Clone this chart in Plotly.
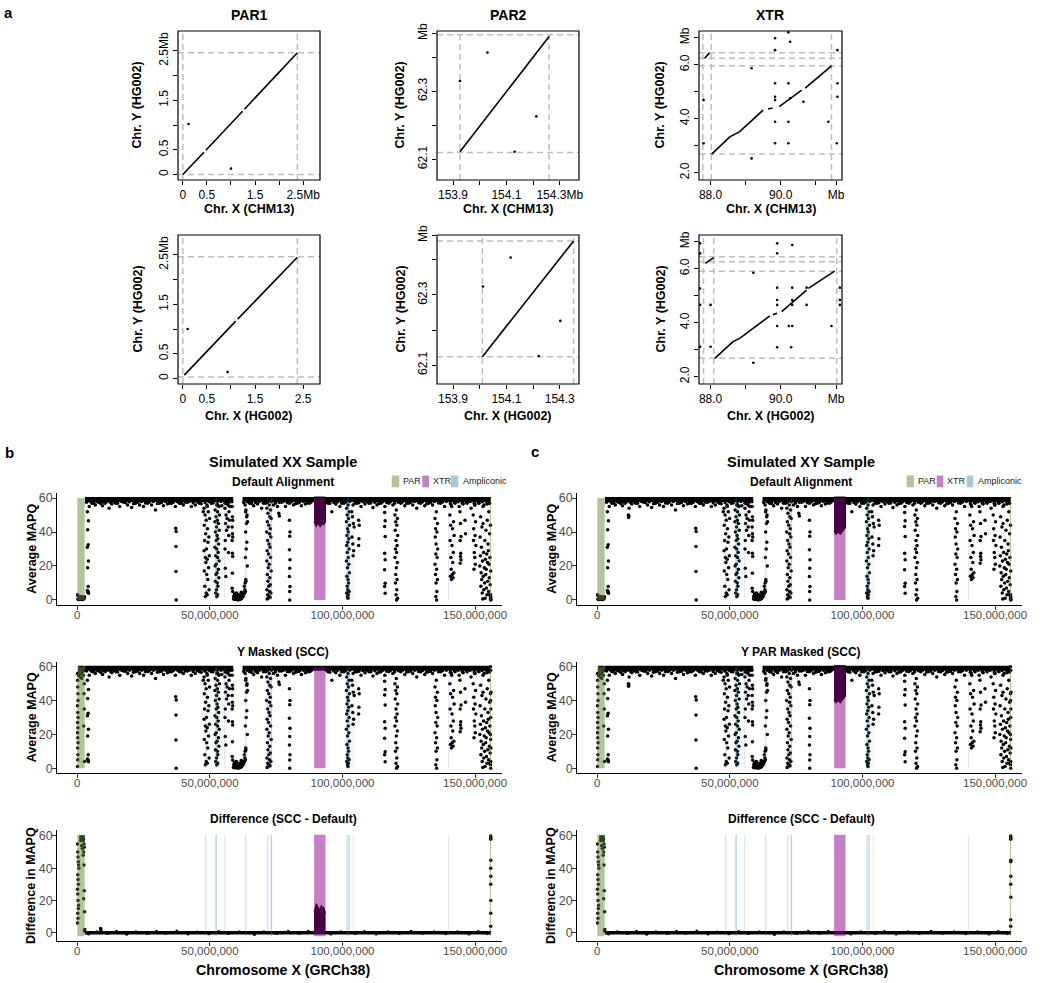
import plotly.graph_objects as go

FONT = "Liberation Sans, Arial, Helvetica, sans-serif"
W, H = 1050, 983

# ======================= Panel a : dot plots (Mb) =======================
par1_xrange = [-0.1, 2.85]
par1_yrange = [-0.11, 2.9]
par1_ticks = [0, 0.5, 1.0, 1.5, 2.0, 2.5]
par1_xtext_r1 = ["0", "0.5", "", "1.5", "", "2.5Mb"]
par1_xtext_r2 = ["0", "0.5", "", "1.5", "", "2.5"]
par1_ytext = ["0", "0.5", "", "1.5", "", "2.5Mb"]
par1_r1_line_x = [0.0, 0.44, None, 0.48, 1.24, None, 1.28, 2.38]
par1_r1_line_y = [0.0, 0.45, None, 0.49, 1.28, None, 1.32, 2.46]
par1_r1_dot_x = [0.12, 1.0]
par1_r1_dot_y = [1.02, 0.12]
par1_r1_v = [0.0, 2.38]
par1_r1_h = [0.0, 2.46]
par1_r2_line_x = [0.03, 1.10, None, 1.14, 2.38]
par1_r2_line_y = [0.07, 1.16, None, 1.20, 2.45]
par1_r2_dot_x = [0.10, 0.93]
par1_r2_dot_y = [1.00, 0.13]
par1_r2_v = [0.0, 2.38]
par1_r2_h = [0.03, 2.46]

par2_xrange = [153.84, 154.372]
par2_r1_yrange = [62.039, 62.477]
par2_r2_yrange = [62.046, 62.471]
par2_xticks = [153.9, 154.0, 154.1, 154.2, 154.3]
par2_xtext_r1 = ["153.9", "", "154.1", "", "154.3Mb"]
par2_xtext_r2 = ["153.9", "", "154.1", "", "154.3"]
par2_yticks = [62.1, 62.2, 62.3, 62.4, 62.47]
par2_ytext = ["62.1", "", "62.3", "", "Mb"]
par2_r1_line_x = [153.926, 154.26]
par2_r1_line_y = [62.122, 62.461]
par2_r1_dot_x = [154.029, 153.926, 154.212, 154.131]
par2_r1_dot_y = [62.414, 62.33, 62.226, 62.122]
par2_r1_v = [153.926, 154.26]
par2_r1_h = [62.12, 62.466]
par2_r2_line_x = [154.010, 154.352]
par2_r2_line_y = [62.124, 62.454]
par2_r2_dot_x = [154.116, 154.012, 154.302, 154.221]
par2_r2_dot_y = [62.407, 62.324, 62.226, 62.126]
par2_r2_v = [154.010, 154.352]
par2_r2_h = [62.124, 62.454]

xtr_xrange = [87.67, 91.75]
xtr_yrange = [1.73, 7.25]
xtr_xticks = [88, 89, 90, 91, 91.58]
xtr_xtext = ["88.0", "", "90.0", "", "Mb"]
xtr_yticks = [2, 3, 4, 5, 6, 7]
xtr_ytext = ["2.0", "", "4.0", "", "6.0", "Mb"]
xtr_r1_line_x = [88.03, 88.55, 88.83, 89.50, None, 89.64, 89.77, None, 89.96, 90.60, None, 90.70, 91.45, None, 87.83, 87.97]
xtr_r1_line_y = [2.69, 3.33, 3.52, 4.32, None, 4.36, 4.40, None, 4.45, 5.06, None, 5.13, 5.96, None, 6.24, 6.44]
xtr_r1_dot_x = [89.84, 90.27, 89.84, 89.17, 89.84, 90.22, 89.84, 89.84, 90.27, 90.65, 89.84, 90.22,
                91.36, 89.84, 90.22, 91.6, 89.17, 91.62, 91.62, 91.62, 87.8, 87.8, 90.22]
xtr_r1_dot_y = [6.98, 6.85, 6.54, 5.87, 5.31, 5.31, 4.81, 4.69, 4.76, 4.63, 3.89, 3.89,
                3.89, 3.09, 3.09, 3.09, 2.53, 6.54, 5.31, 4.81, 4.69, 3.09, 7.2]
xtr_r1_v = [87.78, 88.02, 91.45]
xtr_r1_h = [6.44, 6.24, 5.96, 2.69]
xtr_r2_line_x = [88.12, 88.64, 88.83, 89.69, None, 89.78, 89.9, None, 90.03, 90.74, None, 90.79, 91.54, None, 87.85, 88.09]
xtr_r2_line_y = [2.68, 3.30, 3.42, 4.25, None, 4.30, 4.35, None, 4.41, 5.21, None, 5.27, 5.91, None, 6.20, 6.41]
xtr_r2_dot_x = [89.9, 90.33, 89.9, 89.22, 89.9, 90.33, 90.74, 89.9, 89.9, 90.33, 90.33, 90.74, 89.9, 90.23,
                90.33, 91.45, 89.9, 90.3, 89.22, 91.69, 91.69, 91.69, 87.7, 87.7, 87.7, 87.7, 87.7, 88.0, 88.0]
xtr_r2_dot_y = [6.94, 6.88, 6.57, 5.85, 5.30, 5.30, 5.30, 4.84, 4.66, 4.84, 4.66, 4.66, 3.88, 3.88,
                3.88, 3.88, 3.09, 3.09, 2.52, 5.30, 4.84, 4.66, 6.94, 6.57, 5.27, 4.66, 3.11, 4.66, 3.11]
xtr_r2_v = [87.8, 88.09, 91.6]
xtr_r2_h = [6.44, 6.26, 5.91, 2.68]

# ======================= Panels b / c : MAPQ along chrX (Mb) =======================
chrx_ticks = [0, 50, 100, 150]
chrx_ticktext = ["0", "50,000,000", "100,000,000", "150,000,000"]
mapq_ticks = [0, 20, 40, 60]

par_start = [0.01, 155.6]
par_end = [2.78, 156.05]
xtr_start = [89.3]
xtr_end = [93.6]
ampl_start = [48.2, 51.9, 52.3, 55.4, 63.3, 71.6, 72.8, 73.1, 101.4, 102.1, 102.4, 103.9, 139.8]
ampl_end = [48.7, 52.6, 52.6, 55.8, 63.8, 72.1, 73.5, 73.4, 102.0, 102.7, 102.7, 104.2, 140.1]

# dense band of windows at MAPQ ~60
band_start = [2.9, 62.3]
band_end = [58.8, 156.0]
band_level = 59.2

fringe_x = [4.5, 5.5, 6.8, 8.0, 9.5, 10.5, 12.0, 13.0, 14.5, 16.0, 17.5, 19.0, 20.5, 22.0, 23.5, 25.0, 26.5,
            28.0, 29.5, 31.0, 32.5, 34.0, 35.5, 37.0, 38.5, 40.0, 41.5, 43.0, 44.5, 46.0, 47.5, 49.0, 50.5,
            53.0, 54.5, 56.0, 57.5, 63.5, 65.0, 66.5, 68.0, 69.5, 71.0, 74.0, 75.5, 77.0, 78.5, 80.0, 81.5,
            83.0, 84.5, 86.0, 87.5, 94.5, 96.0, 97.5, 99.0, 100.5, 104.0, 105.5, 107.0, 108.5, 110.0, 111.5,
            113.0, 114.5, 116.0, 117.5, 119.0, 122.0, 123.5, 125.0, 126.5, 128.0, 129.5, 131.0, 132.5, 134.0,
            137.0, 138.5, 141.0, 142.5, 144.0, 145.5, 147.0, 148.5, 150.0, 151.5, 153.0, 154.5, 155.5]
fringe_y = [55, 57, 56, 57.5, 55.5, 57, 54, 56.5, 57, 55, 57.5, 56, 54.5, 57, 56, 55, 57,
            56, 53, 57, 55.5, 56.5, 57, 55, 57, 56, 57.5, 55, 56, 57, 52, 55, 57,
            56, 55.5, 57, 55, 52, 57, 55.5, 56.5, 54, 57, 56, 55, 57.5, 55, 57, 56,
            57, 55.5, 56.5, 57, 57, 52, 56.5, 55, 57, 56, 57, 55, 56.5, 57, 54.5,
            56, 57, 55, 57, 56, 57, 55.5, 57, 56, 54, 57, 55.5, 57, 56,
            57, 55, 56, 57, 55, 56.5, 57, 54, 56, 57, 55, 56.5, 57]
fringe2_x = [3.5, 5.0, 6.2, 7.4, 8.8, 10.0, 11.3, 12.6, 13.8, 15.2, 16.7, 18.2, 19.7, 21.2, 22.8, 24.2, 25.7,
             27.2, 28.7, 30.2, 31.8, 33.3, 34.8, 36.2, 37.8, 39.2, 40.7, 42.2, 43.7, 45.2, 46.7, 48.2, 49.7,
             51.2, 52.7, 54.2, 55.7, 57.2, 58.3, 62.8, 64.2, 65.7, 67.2, 68.7, 70.2, 71.7, 73.2, 74.7, 76.2,
             77.7, 79.2, 80.7, 82.2, 83.7, 85.2, 86.7, 88.2, 94.0, 95.2, 96.7, 98.2, 99.7, 101.2, 102.7, 104.7,
             106.2, 107.7, 109.2, 110.7, 112.2, 113.7, 115.2, 116.7, 118.2, 119.7, 121.2, 122.7, 124.2, 125.7,
             127.2, 128.7, 130.2, 131.7, 133.2, 134.7, 136.2, 137.7, 139.2, 140.7, 142.2, 143.7, 145.2, 146.7,
             148.2, 149.7, 151.2, 152.7, 154.2, 155.2]
fringe2_y = [57.5, 58, 57, 58, 56.8, 57.6, 58, 57.2, 57.8, 56.9,
             58, 57.3, 57.9, 56.7, 57.5, 58, 57.1, 57.7, 58, 56.8,
             57.4, 58, 57, 57.6, 57.9, 56.9, 57.5, 58, 57.2, 57.8,
             56.7, 57.4, 58, 57.1, 57.7, 58, 56.9, 57.5, 57.9, 57.2,
             57.8, 56.8, 57.4, 58, 57, 57.6, 57.9, 56.9, 57.5, 58,
             57.2, 57.8, 56.7, 57.4, 58, 57.1, 57.7, 58, 56.8, 57.5,
             57.9, 57, 57.6, 58, 56.9, 57.3, 57.8, 58, 57.1, 57.6,
             56.8, 57.9, 57.4, 58, 57, 57.6, 57.9, 56.9, 57.5, 58,
             57.2, 57.8, 56.7, 57.4, 58, 57.1, 57.7, 58, 56.8, 57.5,
             57.9, 57, 57.6, 58, 56.9, 57.3, 57.8, 58, 57.1]

dip_x = [
    3.8, 4.2, 3.9, 4.1, 3.8, 4.2, 3.9, 4.1, 3.8, 4.2, 4.0, 4.1,
    37.1, 37.3, 37.2, 37.2, 37.3,
    48.9, 47.8, 49.4, 48.2, 49.9, 48.6, 47.9, 49.1, 48.4, 49.6, 48.0, 49.3, 48.7, 47.8, 49.8, 48.3, 49.0,
    48.5, 49.5, 47.9, 48.8, 49.2, 48.1, 49.7, 48.6, 49.0, 48.3,
    52.6, 53.4, 52.0, 52.9, 53.6, 52.3, 52.8, 51.9, 53.2, 52.5, 53.5, 52.1, 52.7, 53.0, 52.4, 53.3, 51.9,
    52.6, 53.1, 52.2, 52.9, 53.5, 52.4, 52.0, 53.2, 52.7, 52.3, 53.4, 52.1, 52.8, 53.0, 52.5, 52.2, 52.9, 52.6,
    56.8, 55.7, 57.2, 56.1, 56.5, 57.4, 55.9, 56.9, 56.3, 57.1, 55.8, 55.7, 55.8, 56.0, 57.0,
    58.4, 58.5, 58.6, 58.4, 58.5, 58.6, 58.4, 58.5, 58.6, 58.5, 58.4, 58.6,
    58.9, 59.2, 59.5, 59.8, 60.1, 60.4, 60.7, 61.0, 61.3, 61.6, 61.9, 62.2, 62.5, 62.8, 63.1, 63.4,
    59.0, 59.6, 60.2, 60.8, 61.4, 62.0, 62.6, 63.2, 59.3, 60.0, 60.6, 61.2, 61.8, 62.4,
    63.0, 63.3, 63.5, 63.6, 63.4, 63.7, 63.9, 64.1, 63.8, 64.0,
    63.3, 63.6, 63.9, 64.2, 63.5,
    72.4, 71.5, 72.9, 71.9, 72.6, 73.1, 71.7, 72.2, 72.8, 71.4, 72.5, 73.0, 71.8, 72.3, 72.7, 71.6, 72.1,
    72.9, 71.5, 72.4, 72.0, 73.1, 71.7, 72.6, 71.9, 72.8, 72.2, 71.5, 72.5, 73.0, 71.8, 72.3, 72.7, 72.0, 71.6,
    76.0, 76.2,
    80.0, 80.2, 80.1, 80.0, 80.2, 80.1, 80.0, 80.2, 80.1, 80.1,
    102.1, 101.6, 102.5, 101.8, 102.3, 101.5, 102.6, 101.9, 102.2, 101.7, 102.4, 102.0, 101.6, 102.5, 101.8,
    102.2, 101.5, 102.4, 101.9, 102.6, 101.7, 102.1, 102.3, 101.8, 102.0, 102.5, 101.6, 102.2, 101.9, 102.1,
    103.5, 103.8, 104.1, 104.4, 103.6, 103.9, 104.2, 104.0,
    106.1, 106.3, 106.2, 106.1,
    115.9, 116.1, 115.9, 116.1, 115.9, 116.1, 115.9, 116.1, 115.9, 116.1,
    120.3, 119.8, 120.7, 120.1, 120.5, 119.9, 120.8, 120.2, 120.6, 120.0, 120.4, 119.8, 120.7, 120.3, 120.1,
    120.6, 120.0, 120.5, 120.2, 120.8, 120.4,
    135.4, 134.9, 135.8, 135.1, 135.6, 135.0, 135.3, 135.9, 135.2, 135.7, 134.9, 135.5, 135.1, 135.8, 135.3,
    135.6, 135.2, 135.5,
    141.2, 140.5, 141.9, 140.8, 141.5, 142.1, 140.6, 141.3, 141.8, 140.9, 141.6, 141.0, 142.0, 141.4, 140.7,
    141.7, 141.1,
    144.3, 144.5, 144.7, 144.4, 144.6, 144.5, 144.7, 144.4,
    146.2, 146.4,
    149.8, 149.3, 150.2, 149.5, 150.0, 149.4, 150.3, 149.7, 149.9, 150.1, 149.6,
    153.4, 155.2, 152.1, 154.6, 153.0, 155.8, 152.6, 154.1, 155.5, 151.9, 153.7, 154.9, 152.4, 155.0, 153.2,
    154.4, 152.0, 155.6, 153.9, 152.8, 154.7, 155.3, 151.8, 153.5, 154.2, 155.9, 152.3, 154.0, 153.1, 155.4,
    152.5, 154.8, 153.6, 155.7, 152.2, 154.3, 153.3, 155.1, 152.7, 154.5, 155.8, 153.8, 155.5, 152.9, 155.9,
]
dip_y = [
    52, 46.6, 41.3, 32.5, 31, 23, 19, 7.9, 5.5, 3.9, 5, 4.5,
    42.3, 40.3, 31.5, 16.7, 0,
    56, 54, 52, 50, 48, 47, 44, 42, 39, 37, 35, 34, 30, 29, 26, 25, 24,
    22, 19, 17, 15, 12, 8, 6, 4, 3, 2,
    56, 55, 53, 52, 50, 49, 47, 46, 45, 43, 41, 40, 38, 36, 35, 33, 31,
    30, 28, 26, 25, 23, 21, 20, 18, 16, 15, 13, 11, 10, 8, 6, 4, 3, 2,
    56, 54, 52, 50, 48, 47, 45, 43, 41, 38, 35, 30, 18.7, 13.8, 28,
    55, 49, 47, 43, 39, 37, 35, 27.5, 25.6, 15.7, 6.9, 4.9,
    0.5, 1.2, 0.3, 2.0, 0.8, 1.5, 0, 2.5, 1.0, 0.4, 1.8, 3.0, 2.2, 3.5, 4.0, 5.0,
    2.2, 2.8, 0.2, 3.0, 2.6, 0.9, 4.2, 6.0, 3.5, 4.0, 1.0, 0.6, 4.5, 2.0,
    8.0, 10.0, 12.0, 11.0, 25, 30, 34, 20, 45, 50,
    56, 53, 49, 46, 40,
    56, 54, 53, 51, 49, 48, 46, 44, 42, 40, 39, 37, 35, 33, 31, 29, 27,
    25, 23, 21, 19, 17, 15, 13, 11, 9, 8, 6, 5, 4, 3, 2, 1.5, 1, 0.5,
    51, 49.5,
    47, 40, 37.5, 29.5, 23.6, 18.7, 13.8, 7.9, 4.9, 0,
    56, 54, 52, 50, 48, 46, 44, 42, 40, 38, 36, 34, 32, 30, 28,
    25, 23, 21, 19, 16, 14, 12, 10, 8, 6, 5, 4, 3, 2, 1,
    52, 49, 45, 43, 37, 33, 29, 26,
    47, 44, 36, 32,
    51.5, 46.6, 43.3, 37.4, 27.5, 23.6, 17.7, 9.8, 7.9, 3.9,
    53, 50, 48, 46, 44, 41, 38, 35, 32, 30, 28, 25, 22, 19, 15,
    12, 10, 6, 3, 1, 0,
    52, 48, 45, 42, 40, 37, 33, 30, 27, 25, 21, 18, 15, 12, 10,
    5, 2, 0,
    55, 50, 46, 44, 42, 38, 35, 32, 28, 25, 22, 18, 16, 15, 14,
    13, 12,
    52, 45, 37.4, 35, 27.5, 25.6, 23.6, 21.6,
    47, 39,
    56, 50, 46, 42, 38, 35, 32, 28, 25, 21, 18,
    56, 52, 49, 47, 45, 44, 43, 41, 39, 37, 35, 33, 31, 29, 28,
    27, 26, 25, 24, 23, 22, 21, 20, 19, 18, 17, 16, 15, 14, 13,
    12, 11, 10, 9, 8, 7, 6, 5, 4, 3, 2, 1, 3, 0.5, 0,
]

par1_default_x = [0.2, 0.5, 0.8, 1.1, 1.4, 1.7, 2.0, 2.3, 2.6, 0.3, 0.9, 1.5, 2.1, 2.7, 0.1]
par1_default_y = [0.5, 0.2, 1.0, 0.4, 0.8, 0.3, 1.2, 0.6, 0.9, 2.5, 1.5, 2.0, 0.3, 1.8, 3.0]
par1_masked_x = [0.1, 0.15, 0.2, 0.25, 0.3, 0.1, 0.2, 0.3, 0.15, 0.25, 0.1, 0.2, 0.3, 0.15, 0.25, 0.2, 0.1,
                 0.5, 0.8, 1.1, 1.4, 1.7, 2.0, 2.3, 2.6, 2.7, 2.5, 2.6, 2.4, 2.7]
par1_masked_y = [56, 52, 48, 44, 40, 37, 33, 30, 27, 24, 21, 18, 15, 12, 8, 5, 1,
                 55, 57, 54, 56, 53, 57, 55, 50, 58, 44, 35, 25, 4]
par1_masked_band = [0.3, 2.8]
par2_default_x = [155.8, 155.9, 156.0, 155.85]
par2_default_y = [0.5, 1.5, 0.2, 3.0]
par2_masked_x = [155.8, 155.9, 156.0, 155.85, 155.95, 155.9, 155.8, 156.0, 155.9]
par2_masked_y = [60, 58, 45, 40, 35, 30, 20, 12, 4]
xy_extra_x = [11.7, 11.8, 11.9]
xy_extra_y = [50, 48.5, 49.5]

xtr_cloud_x = [89.3, 89.7, 90.1, 90.5, 90.9, 91.3, 91.7, 92.1, 92.5, 92.9, 93.3, 93.6]
xx_xtr_low = [46, 44, 43, 44.5, 45, 43.5, 43, 44, 45, 44, 45, 46]
xy_xtr_low = [41, 39, 38.5, 39.5, 40, 39, 38.5, 39.5, 40.5, 41, 42, 42.5]
xtr_cloud_top = 60.6
xx_diff_xtr_high = [13, 16, 18, 17, 15, 14, 16, 17, 15, 16, 14, 12]

# difference panels
diff_base_start = [2.9]
diff_base_end = [156.0]
diff_jit_x = [4.2, 7.5, 11.3, 14.8, 18.6, 22.1, 26.4, 29.9, 33.2, 37.5, 41.8, 45.1, 49.6, 53.3, 57.0, 61.2,
              66.8, 70.4, 75.2, 79.5, 83.7, 87.1, 95.6, 99.4, 104.8, 108.3, 112.7, 117.2, 121.5, 125.9,
              130.3, 134.6, 138.9, 143.4, 147.7, 151.2, 154.6]
diff_jit_y = [-0.8, 0.6, -0.5, 0.9, -1.0, 0.5, -0.6, 0.8, -0.4, 1.0, -0.9, 0.4, -0.7, 0.7, -0.5, 0.6,
              -1.1, 0.5, -0.6, 0.8, -0.3, 0.9, -0.8, 0.6, -0.5, 0.7, -0.9, 0.5, -0.6, 0.8,
              -0.4, 0.6, -0.7, 0.5, -0.8, 0.7, -0.5]
diff_par1_x = [0.1, 0.2, 0.3, 0.4, 0.5, 0.6, 0.2, 0.3, 0.4, 0.1, 0.2, 0.3, 0.5, 0.4, 0.2, 0.3, 0.1,
               2.3, 2.5, 2.6, 2.4, 2.2, 1.9, 1.6, 2.5, 2.6, 2.4, 2.7, 2.8, 2.7]
diff_par1_y = [55, 50, 47, 44, 42, 40, 36, 33, 30, 27, 24, 20, 17, 15, 12, 9, 6,
               58, 55, 53, 50, 48, 52, 54, 42, 26, 21, 13, 2, 1]
diff_par1_band = [0.7, 2.8]
diff_par1_band_level = 58.3
diff_bump_x = [8.8, 8.9]
diff_bump_y = [2.5, 1.8]
diff_par2_x = [155.9, 155.95, 155.9, 155.95, 155.9, 155.95, 155.9, 155.95, 155.9, 155.9]
diff_par2_xx_y = [60, 59, 58, 45, 40, 35, 30, 20, 12, 4]
diff_par2_xy_y = [60, 59, 58, 45, 44, 35, 30, 22, 8, 4]

PAR_COL = "rgba(103,137,53,0.5)"
XTR_COL = "rgba(139,0,139,0.5)"
AMP_COL = "rgba(70,130,180,0.22)"

# ======================= build =======================
fig = go.Figure()
axes = {}
shapes = []
anns = []


def make_axes(n, xpix, ypix, xkw, ykw):
    xn = 'xaxis' if n == 1 else 'xaxis%d' % n
    yn = 'yaxis' if n == 1 else 'yaxis%d' % n
    xr = 'x' if n == 1 else 'x%d' % n
    yr = 'y' if n == 1 else 'y%d' % n
    axes[xn] = dict(domain=[xpix[0] / W, xpix[1] / W], anchor=yr, automargin=False, **xkw)
    axes[yn] = dict(domain=[1 - ypix[1] / H, 1 - ypix[0] / H], anchor=xr, automargin=False, **ykw)
    return xr, yr


def ann(text, x, y, size, bold=False, angle=0, color='black', xanchor='center'):
    anns.append(dict(text=("<b>%s</b>" % text) if bold else text, x=x / W, y=1 - y / H,
                     xref='paper', yref='paper', showarrow=False, textangle=angle,
                     font=dict(family=FONT, size=size, color=color),
                     xanchor=xanchor, yanchor='middle'))


def a_axis(rng, tv, tt, angle=0):
    return dict(range=rng, tickvals=tv, ticktext=tt, tickangle=angle, showline=False,
                ticks='outside', ticklen=4, tickwidth=1,
                tickcolor='black', showgrid=False, zeroline=False,
                tickfont=dict(family=FONT, size=12, color='black'))


def pts(xr, yr, xs, ys, size=3.5, color='black'):
    fig.add_trace(go.Scatter(x=xs, y=ys, mode='markers', xaxis=xr, yaxis=yr, hoverinfo='skip',
                             marker=dict(size=size, color=color, line=dict(width=0)), showlegend=False))


def line(xr, yr, xs, ys, width, color='black'):
    fig.add_trace(go.Scatter(x=xs, y=ys, mode='lines', xaxis=xr, yaxis=yr, hoverinfo='skip',
                             line=dict(width=width, color=color), showlegend=False))


a_specs = [
    (1, (178, 320), (31, 180), par1_xrange, par1_yrange, par1_ticks, par1_xtext_r1, par1_ticks, par1_ytext,
     par1_r1_line_x, par1_r1_line_y, par1_r1_dot_x, par1_r1_dot_y, par1_r1_v, par1_r1_h, 137, "Chr. X (CHM13)"),
    (2, (437, 579), (31, 180), par2_xrange, par2_r1_yrange, par2_xticks, par2_xtext_r1, par2_yticks, par2_ytext,
     par2_r1_line_x, par2_r1_line_y, par2_r1_dot_x, par2_r1_dot_y, par2_r1_v, par2_r1_h, 400, "Chr. X (CHM13)"),
    (3, (699, 842), (31, 180), xtr_xrange, xtr_yrange, xtr_xticks, xtr_xtext, xtr_yticks, xtr_ytext,
     xtr_r1_line_x, xtr_r1_line_y, xtr_r1_dot_x, xtr_r1_dot_y, xtr_r1_v, xtr_r1_h, 660, "Chr. X (CHM13)"),
    (4, (178, 320), (235, 384), par1_xrange, par1_yrange, par1_ticks, par1_xtext_r2, par1_ticks, par1_ytext,
     par1_r2_line_x, par1_r2_line_y, par1_r2_dot_x, par1_r2_dot_y, par1_r2_v, par1_r2_h, 137, "Chr. X (HG002)"),
    (5, (437, 579), (235, 384), par2_xrange, par2_r2_yrange, par2_xticks, par2_xtext_r2, par2_yticks, par2_ytext,
     par2_r2_line_x, par2_r2_line_y, par2_r2_dot_x, par2_r2_dot_y, par2_r2_v, par2_r2_h, 400, "Chr. X (HG002)"),
    (6, (699, 842), (235, 384), xtr_xrange, xtr_yrange, xtr_xticks, xtr_xtext, xtr_yticks, xtr_ytext,
     xtr_r2_line_x, xtr_r2_line_y, xtr_r2_dot_x, xtr_r2_dot_y, xtr_r2_v, xtr_r2_h, 660, "Chr. X (HG002)"),
]

for (n, xp, yp, xrg, yrg, xtv, xtt, ytv, ytt, lx, ly, dx, dy, vl, hl, ytx, xtitle) in a_specs:
    xr, yr = make_axes(n, xp, yp, a_axis(xrg, xtv, xtt), a_axis(yrg, ytv, ytt, -90))
    for v in vl:
        shapes.append(dict(type='line', xref=xr, yref=yr + ' domain', x0=v, x1=v, y0=0, y1=1, layer='below',
                           line=dict(color='#BEBEBE', width=1.5, dash='6px,4px')))
    for h in hl:
        shapes.append(dict(type='line', xref=xr + ' domain', yref=yr, x0=0, x1=1, y0=h, y1=h, layer='below',
                           line=dict(color='#BEBEBE', width=1.5, dash='6px,4px')))
    shapes.append(dict(type='rect', xref=xr + ' domain', yref=yr + ' domain', x0=0, x1=1, y0=0, y1=1,
                       layer='above', line=dict(color='black', width=1.2), fillcolor='rgba(0,0,0,0)'))
    line(xr, yr, lx, ly, 1.6)
    pts(xr, yr, dx, dy, size=2.6)
    ann("Chr. Y (HG002)", ytx, (yp[0] + yp[1]) / 2, 12.5, bold=True, angle=-90)
    ann(xtitle, (xp[0] + xp[1]) / 2, yp[1] + 29 + (3 if n > 3 else 0), 12.5, bold=True)

ann("PAR1", 249, 15, 14, bold=True)
ann("PAR2", 508, 15, 14, bold=True)
ann("XTR", 770, 15, 14, bold=True)
ann("a", 8, 13, 15, bold=True)


def g_axes(n, xpix, ypix, yrange):
    xkw = dict(range=[-7.54, 160.05], tickvals=chrx_ticks, ticktext=chrx_ticktext, showline=True,
               linecolor='black', linewidth=1.1, ticks='outside', ticklen=4, tickcolor='#333333',
               ticklabelstandoff=-5,
               showgrid=False, zeroline=False, tickfont=dict(family=FONT, size=11.5, color='#4D4D4D'))
    ykw = dict(range=yrange, tickvals=mapq_ticks, showline=True, linecolor='black', linewidth=1.1,
               ticks='outside', ticklen=4, tickcolor='#333333', ticklabelstandoff=-3,
               showgrid=False, zeroline=False,
               tickfont=dict(family=FONT, size=12.5, color='#4D4D4D'))
    return make_axes(n, xpix, ypix, xkw, ykw)


def region_rects(xr, yr, y0, y1):
    for s, e in zip(ampl_start, ampl_end):
        shapes.append(dict(type='rect', xref=xr, yref=yr, x0=s, x1=e, y0=y0, y1=y1, layer='above',
                           fillcolor=AMP_COL, line=dict(width=0)))
    for s, e in zip(par_start, par_end):
        shapes.append(dict(type='rect', xref=xr, yref=yr, x0=s, x1=e, y0=y0, y1=y1, layer='above',
                           fillcolor=PAR_COL, line=dict(width=0)))
    for s, e in zip(xtr_start, xtr_end):
        shapes.append(dict(type='rect', xref=xr, yref=yr, x0=s, x1=e, y0=y0, y1=y1, layer='above',
                           fillcolor=XTR_COL, line=dict(width=0)))


def band(xr, yr, starts, ends, level, width):
    xs, ys = [], []
    for s, e in zip(starts, ends):
        xs += [s, e, None]
        ys += [level, level, None]
    line(xr, yr, xs, ys, width)


def cloud(xr, yr, low):
    xs = xtr_cloud_x + xtr_cloud_x[::-1]
    ys = low + [xtr_cloud_top for _ in xtr_cloud_x]
    fig.add_trace(go.Scatter(x=xs, y=ys, mode='lines', fill='toself', fillcolor='black',
                             line=dict(width=1, color='black'), xaxis=xr, yaxis=yr,
                             hoverinfo='skip', showlegend=False))


def mapq_panel(n, xpix, ypix, sample, masked):
    xr, yr = g_axes(n, xpix, ypix, [-3, 63])
    band(xr, yr, band_start, band_end, band_level, 5)
    pts(xr, yr, fringe_x, fringe_y)
    pts(xr, yr, fringe2_x, fringe2_y)
    pts(xr, yr, dip_x, dip_y)
    if sample == 'XY':
        pts(xr, yr, xy_extra_x, xy_extra_y)
    if masked:
        band(xr, yr, [par1_masked_band[0]], [par1_masked_band[1]], band_level, 5)
        pts(xr, yr, par1_masked_x, par1_masked_y)
        pts(xr, yr, par2_masked_x, par2_masked_y)
    else:
        pts(xr, yr, par1_default_x, par1_default_y)
        pts(xr, yr, par2_default_x, par2_default_y)
    if sample == 'XX' and not masked:
        cloud(xr, yr, xx_xtr_low)
    if sample == 'XY':
        cloud(xr, yr, xy_xtr_low)
    region_rects(xr, yr, 0, 60)
    ann("Average MAPQ", xpix[0] - 25.6, (ypix[0] + ypix[1]) / 2, 12.5, bold=True, angle=-90)


def diff_panel(n, xpix, ypix, sample):
    xr, yr = g_axes(n, xpix, ypix, [-5, 63.7])
    band(xr, yr, diff_base_start, diff_base_end, 0, 3.5)
    pts(xr, yr, diff_jit_x, diff_jit_y, size=3)
    band(xr, yr, [diff_par1_band[0]], [diff_par1_band[1]], diff_par1_band_level, 7)
    pts(xr, yr, diff_par1_x, diff_par1_y)
    if sample == 'XX':
        pts(xr, yr, diff_bump_x, diff_bump_y)
        fig.add_trace(go.Scatter(x=xtr_cloud_x, y=xx_diff_xtr_high, mode='lines', fill='tozeroy',
                                 fillcolor='black', line=dict(width=1, color='black'), xaxis=xr, yaxis=yr,
                                 hoverinfo='skip', showlegend=False))
        pts(xr, yr, diff_par2_x, diff_par2_xx_y)
    else:
        pts(xr, yr, diff_par2_x, diff_par2_xy_y)
    region_rects(xr, yr, -2.3, 60.7)
    ann("Difference in MAPQ", xpix[0] - 25.6, (ypix[0] + ypix[1]) / 2, 12.5, bold=True, angle=-90)


for off, sample, n0, masked_title, lab, lab_xy in [(0, 'XX', 7, "Y Masked (SCC)", "b", (9, 452)),
                                                   (520, 'XY', 10, "Y PAR Masked (SCC)", "c", (535, 451))]:
    xpix = (57.3 + off, 501.7 + off)
    tc = 283 + off - (2 if off else 0)
    mapq_panel(n0, xpix, (493, 605), sample, False)
    mapq_panel(n0 + 1, xpix, (661.7, 773.3), sample, True)
    diff_panel(n0 + 2, xpix, (830, 940.7), sample)
    ann(lab, lab_xy[0], lab_xy[1], 15, bold=True)
    ann("Simulated %s Sample" % sample, tc, 462, 14.5, bold=True)
    ann("Default Alignment", tc, 482, 12, bold=True)
    ann(masked_title, tc, 652, 12, bold=True)
    ann("Difference (SCC - Default)", tc, 818.5, 12, bold=True)
    ann("Chromosome X (GRCh38)", tc, 970, 14.2, bold=True)

# legends
legend_sets = [
    [(391.7, 399.3, 401, "PAR", PAR_COL), (422.3, 429.0, 431, "XTR", XTR_COL), (451.0, 458.3, 460.5, "Ampliconic", "rgba(70,130,180,0.45)")],
    [(906.7, 914.0, 915.5, "PAR", PAR_COL), (936.7, 943.3, 945, "XTR", XTR_COL), (966.7, 973.3, 975.5, "Ampliconic", "rgba(70,130,180,0.45)")],
]
for lset in legend_sets:
    for (k0, k1, tx, txt, col) in lset:
        shapes.append(dict(type='rect', xref='paper', yref='paper', x0=k0 / W, x1=k1 / W,
                           y0=1 - 487.3 / H, y1=1 - 475.5 / H, fillcolor=col, line=dict(width=0)))
        ann(txt, tx, 481.5, 9, xanchor='left', color='#222222')

fig.update_layout(width=W, height=H, margin=dict(l=0, r=0, t=0, b=0, autoexpand=False),
                  paper_bgcolor='white', plot_bgcolor='white', showlegend=False, shapes=shapes,
                  annotations=anns, font=dict(family=FONT), **axes)
fig.write_html("out.html", config={"displayModeBar": False},
               post_script="document.body.style.margin='0';document.body.style.padding='0';"
                           "document.documentElement.style.overflow='hidden';")
